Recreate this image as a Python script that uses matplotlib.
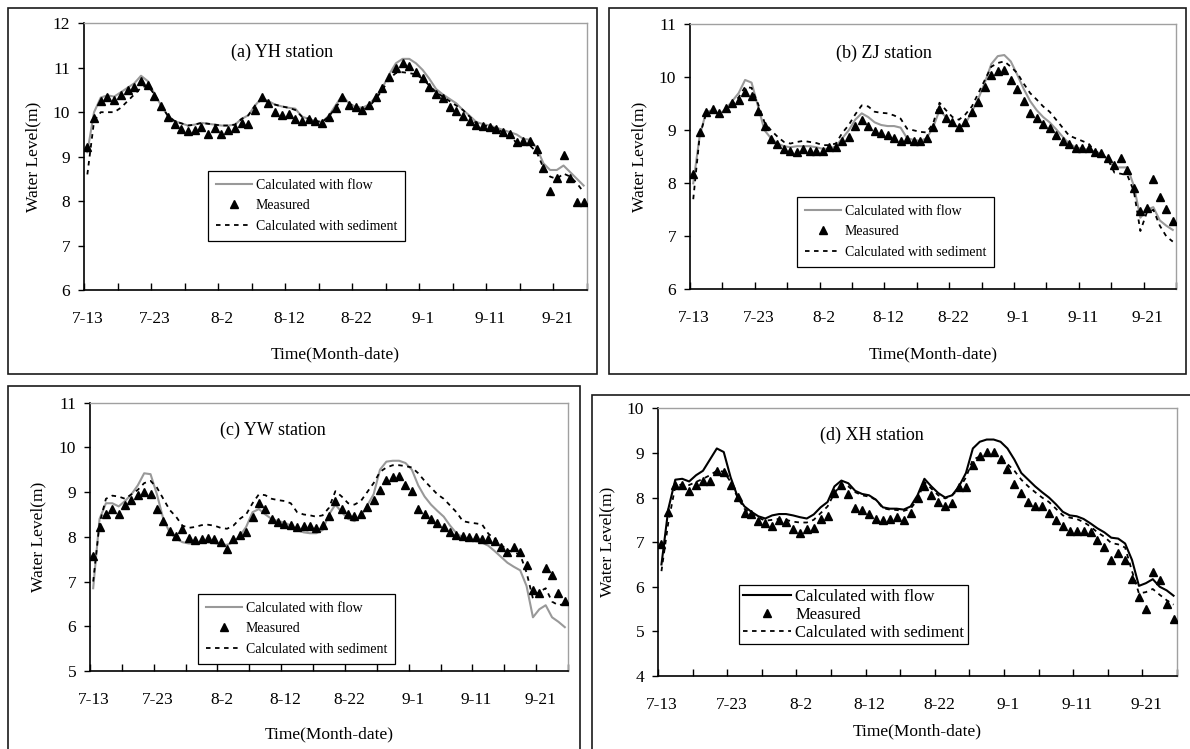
import numpy as np
import matplotlib.pyplot as plt
from matplotlib.patches import Rectangle
from matplotlib.transforms import ScaledTranslation

plt.rcParams['font.family'] = ['Liberation Serif', 'DejaVu Serif']

W, H = 1190, 749

# days counted from 7-13, Excel puts each daily point in the middle of its slot
day = np.arange(75) + 0.5
tick_days = np.arange(0, 71, 10)
tick_labels = ['7-13', '7-23', '8-2', '8-12', '8-22', '9-1', '9-11', '9-21']

# (a) YH station
yh_flow = [9.1, 10.0, 10.33, 10.38, 10.35, 10.45, 10.55, 10.65, 10.82, 10.7,
           10.42, 10.15, 9.92, 9.8, 9.75, 9.7, 9.72, 9.76, 9.74, 9.72,
           9.7, 9.7, 9.72, 9.85, 9.93, 10.15, 10.32, 10.25, 10.17, 10.13,
           10.1, 10.08, 9.9, 9.85, 9.8, 9.78, 9.92, 10.15, 10.38, 10.2,
           10.12, 10.1, 10.17, 10.35, 10.55, 10.85, 11.1, 11.2, 11.2, 11.1,
           10.95, 10.75, 10.52, 10.4, 10.3, 10.2, 10.05, 9.92, 9.78, 9.73,
           9.7, 9.65, 9.6, 9.55, 9.5, 9.4, 9.38, 9.2, 8.85, 8.7,
           8.7, 8.8, 8.65, 8.5, 8.35]
yh_meas = [9.22, 9.88, 10.25, 10.35, 10.27, 10.39, 10.5, 10.57, 10.7, 10.61,
           10.37, 10.15, 9.9, 9.73, 9.62, 9.58, 9.6, 9.66, 9.51, 9.64,
           9.51, 9.6, 9.64, 9.75, 9.73, 10.05, 10.35, 10.2, 10.0, 9.94,
           9.95, 9.85, 9.8, 9.85, 9.8, 9.76, 9.9, 10.09, 10.35, 10.16,
           10.11, 10.05, 10.16, 10.35, 10.54, 10.8, 10.99, 11.1, 11.05, 10.9,
           10.76, 10.57, 10.4, 10.31, 10.12, 10.03, 9.92, 9.81, 9.71, 9.69,
           9.66, 9.62, 9.55, 9.51, 9.34, 9.35, 9.36, 9.17, 8.74, 8.23,
           8.51, 9.04, 8.51, 7.99, 7.99]
yh_sed = [8.6, 9.8, 10.0, 10.0, 10.0, 10.1, 10.25, 10.4, 10.55, 10.6,
          10.4, 10.15, 9.92, 9.8, 9.75, 9.7, 9.72, 9.76, 9.74, 9.72,
          9.7, 9.7, 9.72, 9.85, 9.93, 10.15, 10.3, 10.22, 10.17, 10.13,
          10.1, 10.05, 9.9, 9.85, 9.8, 9.78, 9.9, 10.1, 10.3, 10.2,
          10.1, 10.05, 10.12, 10.3, 10.5, 10.75, 10.88, 10.9, 10.88, 10.85,
          10.75, 10.6, 10.45, 10.35, 10.25, 10.15, 10.05, 9.9, 9.75, 9.7,
          9.68, 9.62, 9.55, 9.5, 9.3, 9.28, 9.25, 9.1, 8.75, 8.55,
          8.5, 8.62, 8.55, 8.4, 8.2]

# (b) ZJ station
zj_flow = [8.0, 8.9, 9.35, 9.38, 9.3, 9.4, 9.55, 9.7, 9.95, 9.9,
           9.45, 9.0, 8.85, 8.75, 8.7, 8.68, 8.7, 8.7, 8.7, 8.68,
           8.65, 8.65, 8.7, 8.85, 9.0, 9.2, 9.32, 9.25, 9.15, 9.1,
           9.08, 9.08, 9.05, 8.85, 8.82, 8.8, 8.85, 9.05, 9.38, 9.25,
           9.12, 9.05, 9.12, 9.35, 9.6, 9.9, 10.25, 10.4, 10.42, 10.3,
           10.05, 9.78, 9.55, 9.38, 9.25, 9.15, 9.02, 8.88, 8.75, 8.68,
           8.65, 8.64, 8.6, 8.55, 8.45, 8.3, 8.3, 8.3, 7.95, 7.35,
           7.5, 7.55, 7.3, 7.2, 7.12]
zj_meas = [8.17, 8.96, 9.34, 9.4, 9.32, 9.42, 9.51, 9.57, 9.72, 9.64,
           9.37, 9.09, 8.83, 8.74, 8.64, 8.61, 8.6, 8.65, 8.61, 8.61,
           8.61, 8.69, 8.69, 8.8, 8.88, 9.08, 9.19, 9.08, 8.99, 8.94,
           8.92, 8.85, 8.8, 8.84, 8.8, 8.79, 8.85, 9.07, 9.4, 9.24,
           9.15, 9.06, 9.15, 9.34, 9.53, 9.81, 10.04, 10.11, 10.13, 9.94,
           9.78, 9.55, 9.33, 9.23, 9.11, 9.04, 8.92, 8.8, 8.74, 8.66,
           8.66, 8.66, 8.6, 8.58, 8.48, 8.35, 8.47, 8.25, 7.92, 7.47,
           7.54, 8.08, 7.75, 7.52, 7.29]
zj_sed = [7.7, 8.9, 9.32, 9.35, 9.28, 9.35, 9.5, 9.62, 9.82, 9.8,
          9.5, 9.15, 9.0, 8.88, 8.78, 8.75, 8.78, 8.8, 8.78, 8.76,
          8.72, 8.72, 8.75, 8.95, 9.1, 9.3, 9.47, 9.45, 9.35, 9.33,
          9.32, 9.28, 9.22, 9.03, 9.0, 8.97, 8.96, 9.12, 9.52, 9.38,
          9.25, 9.2, 9.3, 9.45, 9.7, 9.95, 10.2, 10.27, 10.3, 10.2,
          10.08, 9.88, 9.7, 9.58, 9.45, 9.35, 9.2, 9.05, 8.9, 8.85,
          8.8, 8.75, 8.6, 8.55, 8.45, 8.2, 8.18, 8.15, 7.85, 7.1,
          7.45, 7.5, 7.2, 7.0, 6.9]

# (c) YW station
yw_flow = [6.85, 8.4, 8.75, 8.75, 8.68, 8.8, 8.95, 9.15, 9.42, 9.4,
           8.95, 8.4, 8.1, 7.96, 7.88, 7.85, 7.85, 7.87, 7.88, 7.86,
           7.83, 7.82, 7.88, 8.02, 8.22, 8.55, 8.62, 8.5, 8.4, 8.35,
           8.32, 8.25, 8.15, 8.1, 8.08, 8.08, 8.15, 8.5, 8.72, 8.55,
           8.4, 8.35, 8.45, 8.7, 8.95, 9.5, 9.68, 9.7, 9.7, 9.65,
           9.5, 9.15, 8.9, 8.72, 8.58, 8.45, 8.25, 8.08, 7.98, 7.93,
           7.9, 7.87, 7.8, 7.68, 7.55, 7.42, 7.33, 7.25, 6.9, 6.2,
           6.38, 6.47, 6.2, 6.1, 5.98]
yw_meas = [7.57, 8.22, 8.52, 8.62, 8.52, 8.72, 8.82, 8.93, 9.0, 8.95,
           8.62, 8.36, 8.13, 8.02, 8.17, 7.98, 7.92, 7.95, 7.98, 7.94,
           7.89, 7.72, 7.95, 8.05, 8.11, 8.45, 8.76, 8.63, 8.4, 8.32,
           8.28, 8.26, 8.21, 8.25, 8.25, 8.2, 8.27, 8.47, 8.8, 8.63,
           8.51, 8.46, 8.52, 8.67, 8.82, 9.04, 9.27, 9.34, 9.37, 9.16,
           9.02, 8.63, 8.52, 8.39, 8.31, 8.22, 8.11, 8.04, 8.01, 8.0,
           7.99, 7.96, 7.94, 7.91, 7.78, 7.66, 7.78, 7.66, 7.37, 6.82,
           6.75, 7.31, 7.14, 6.75, 6.56]
yw_sed = [7.0, 8.3, 8.85, 8.92, 8.9, 8.85, 8.95, 9.05, 9.2, 9.25,
          9.1, 8.85, 8.6, 8.45, 8.25, 8.2, 8.22, 8.26, 8.27, 8.25,
          8.2, 8.18, 8.25, 8.4, 8.5, 8.75, 8.95, 8.93, 8.85, 8.82,
          8.8, 8.75, 8.55, 8.5, 8.48, 8.45, 8.48, 8.65, 9.02, 8.9,
          8.75, 8.72, 8.8, 9.0, 9.2, 9.45, 9.55, 9.6, 9.6, 9.58,
          9.55, 9.42, 9.25, 9.1, 8.95, 8.85, 8.7, 8.55, 8.35, 8.32,
          8.3, 8.28, 8.07, 7.95, 7.82, 7.7, 7.66, 7.6, 7.2, 6.62,
          6.77, 6.85, 6.55, 6.47, 6.5]

# (d) XH station
xh_flow = [6.5, 7.75, 8.4, 8.42, 8.36, 8.5, 8.6, 8.85, 9.1, 9.02,
           8.45, 8.02, 7.8, 7.68, 7.58, 7.53, 7.6, 7.63, 7.63, 7.6,
           7.56, 7.53, 7.62, 7.78, 7.9, 8.25, 8.38, 8.32, 8.15, 8.08,
           8.05, 7.95, 7.78, 7.75, 7.75, 7.73, 7.8, 8.05, 8.42, 8.25,
           8.1, 8.0, 8.05, 8.25, 8.55, 9.1, 9.25, 9.3, 9.3, 9.25,
           9.1, 8.85, 8.55, 8.4, 8.25, 8.12, 8.0, 7.85, 7.68, 7.6,
           7.58, 7.52, 7.42, 7.31, 7.22, 7.1, 7.08, 6.97, 6.6, 6.02,
           6.08, 6.17, 6.0, 5.92, 5.8]
xh_meas = [6.95, 7.68, 8.28, 8.28, 8.15, 8.28, 8.38, 8.36, 8.6, 8.58,
           8.27, 8.02, 7.65, 7.63, 7.48, 7.42, 7.37, 7.5, 7.46, 7.29,
           7.21, 7.29, 7.32, 7.53, 7.59, 8.11, 8.28, 8.09, 7.76, 7.72,
           7.63, 7.52, 7.5, 7.52, 7.56, 7.49, 7.65, 7.98, 8.26, 8.06,
           7.89, 7.81, 7.88, 8.23, 8.23, 8.73, 8.93, 9.01, 9.01, 8.86,
           8.65, 8.3, 8.11, 7.91, 7.81, 7.8, 7.65, 7.5, 7.36, 7.26,
           7.26, 7.26, 7.23, 7.05, 6.9, 6.61, 6.75, 6.61, 6.17, 5.78,
           5.5, 6.32, 6.15, 5.61, 5.27]
xh_sed = [6.35, 7.45, 8.25, 8.3, 8.28, 8.35, 8.42, 8.5, 8.6, 8.58,
          8.35, 8.0, 7.75, 7.62, 7.55, 7.48, 7.5, 7.52, 7.5, 7.46,
          7.44, 7.44, 7.5, 7.65, 7.8, 8.1, 8.3, 8.25, 8.12, 8.05,
          8.02, 7.95, 7.76, 7.73, 7.72, 7.7, 7.75, 7.95, 8.35, 8.2,
          8.05, 7.98, 8.05, 8.2, 8.45, 8.85, 8.92, 8.95, 8.95, 8.9,
          8.75, 8.6, 8.4, 8.25, 8.12, 8.0, 7.9, 7.75, 7.6, 7.55,
          7.52, 7.45, 7.35, 7.22, 7.12, 6.98, 6.95, 6.88, 6.35, 5.85,
          5.88, 5.95, 5.82, 5.7, 5.6]

fig = plt.figure(figsize=(W / 100, H / 100), dpi=100)


def px_rect(x0, y0, x1, y1):
    # pixel box (top-left origin) -> figure fraction [l, b, w, h]
    return [x0 / W, 1 - y1 / H, (x1 - x0) / W, (y1 - y0) / H]


def frame(x0, y0, x1, y1):
    l, b, w, h = px_rect(x0, y0, x1, y1)
    fig.add_artist(Rectangle((l, b), w, h, transform=fig.transFigure,
                             fill=False, ec='#1a1a1a', lw=1.2, clip_on=False))


def panel(rect, title, tpos, flow, meas, sed, ylim, flow_col, leg_at, leg_fs,
          leg_kw, ylab_x, xlab_y):
    ax = fig.add_axes(px_rect(*rect))
    l1, = ax.plot(day, flow, color=flow_col, lw=1.5, zorder=2)
    l3, = ax.plot(day, sed, color='black', lw=1.3, dashes=(2.5, 2.5), zorder=3)
    l2, = ax.plot(day, meas, ls='none', marker='^', ms=5.8, color='black', zorder=4)
    ax.set_xlim(0, 75)
    ax.set_ylim(*ylim)
    ax.set_yticks(np.arange(ylim[0], ylim[1] + 1))
    ax.set_xticks(tick_days)
    ax.set_xticklabels(tick_labels)
    ax.set_xticks(np.arange(5, 76, 10), minor=True)
    ax.tick_params(axis='x', which='both', direction='in', length=5, width=1,
                   pad=15, labelsize=12.5)
    ax.tick_params(axis='y', direction='out', length=4, width=1, pad=6, labelsize=12.5)
    # Excel nudges the date labels a little to the right of the tick
    shift = ScaledTranslation(3 / 72, 0, fig.dpi_scale_trans)
    for lab in ax.get_xticklabels():
        lab.set_transform(lab.get_transform() + shift)
    for s in ('left', 'bottom'):
        ax.spines[s].set_color('black')
        ax.spines[s].set_linewidth(1.2)
    for s in ('top', 'right'):
        ax.spines[s].set_color('#a0a0a0')
        ax.spines[s].set_linewidth(1.0)
    ax.text(tpos[0], tpos[1], title, transform=ax.transAxes, ha='center',
            va='center', fontsize=13)
    ax.set_ylabel('Water Level(m)', fontsize=12.5, va='center')
    ax.yaxis.set_label_coords(ylab_x, 0.5)
    ax.set_xlabel('Time(Month-date)', fontsize=12.5, va='center')
    ax.xaxis.set_label_coords(0.5, xlab_y)
    leg = ax.legend([l1, l2, l3],
                    ['Calculated with flow', 'Measured', 'Calculated with sediment'],
                    loc='upper left', bbox_to_anchor=leg_at, borderaxespad=0,
                    fancybox=False, edgecolor='black', framealpha=1,
                    fontsize=leg_fs, numpoints=1, **leg_kw)
    leg.get_frame().set_linewidth(0.9)
    return ax


small_leg = dict(handlelength=2.6, handletextpad=0.3, borderpad=0.55, labelspacing=0.55)
big_leg = dict(handlelength=2.9, handletextpad=0.25, borderpad=0.22, labelspacing=0.12)

frame(8, 8, 597, 374)
frame(609, 8, 1186, 374)
frame(8, 386, 580, 760)
frame(592, 395, 1200, 760)

panel((84, 23.3, 587, 290), '(a) YH station', (0.394, 0.89),
      yh_flow, yh_meas, yh_sed, (6, 12), '#999999', (0.2465, 0.446), 10,
      small_leg, -0.101, -0.24)
panel((690, 24.3, 1176, 289.3), '(b) ZJ station', (0.40, 0.892),
      zj_flow, zj_meas, zj_sed, (6, 11), '#999999', (0.22, 0.348), 10,
      small_leg, -0.105, -0.245)
panel((90, 402.6, 568, 671), '(c) YW station', (0.383, 0.897),
      yw_flow, yw_meas, yw_sed, (5, 11), '#999999', (0.226, 0.287), 10,
      small_leg, -0.109, -0.238)
panel((658, 408.3, 1177, 676), '(d) XH station', (0.412, 0.90),
      xh_flow, xh_meas, xh_sed, (4, 10), 'black', (0.156, 0.34), 12,
      big_leg, -0.098, -0.2055)

fig.savefig('out.png', dpi=100)
